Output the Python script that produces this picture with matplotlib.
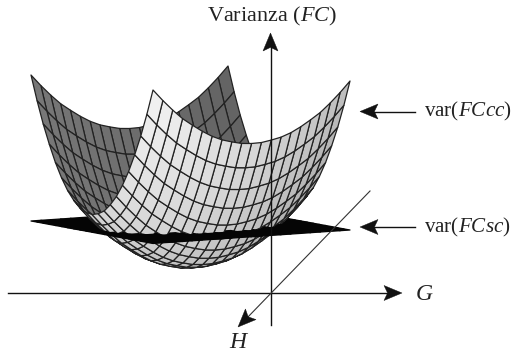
"""
bowl of var(FCcc) over the flat var(FCsc) sheet, with the G, H and variance axes
"""
import numpy as np
import matplotlib
matplotlib.use("Agg")
import matplotlib.pyplot as plt
from matplotlib.collections import PolyCollection
from matplotlib.patches import Polygon

# grid lines of both sheets
g_lines = [-1.0, -0.9, -0.8, -0.7, -0.6, -0.5, -0.4, -0.3, -0.2, -0.1, 0.0,
           0.1, 0.2, 0.3, 0.4, 0.5, 0.6, 0.7, 0.8, 0.9, 1.0]
h_lines = [-1.0, -0.9, -0.8, -0.7, -0.6, -0.5, -0.4, -0.3, -0.2, -0.1, 0.0,
           0.1, 0.2, 0.3, 0.4, 0.5, 0.6, 0.7, 0.8, 0.9, 1.0]
# height read along the rim, in pixels
bowl_rise_g = [58, 47, 37, 28, 21, 14.5, 9, 5, 2.5, 0.5, 0,
               0.5, 2.5, 5, 9, 14.5, 21, 28, 37, 47, 58]
bowl_rise_h = [132, 107, 84.5, 65, 47.5, 33, 21, 12, 5, 1.5, 0,
               1.5, 5, 12, 21, 33, 47.5, 65, 84.5, 107, 132]
sheet_rise_g = [40.25, 40.5, 40.7, 40.9, 41.15, 41.4, 41.6, 41.85, 42.05, 42.3, 42.5,
                42.7, 42.95, 43.15, 43.4, 43.6, 43.85, 44.1, 44.3, 44.5, 44.75]
sheet_rise_h = [3.75, 3.4, 3.0, 2.6, 2.25, 1.9, 1.5, 1.1, 0.75, 0.4, 0.0,
                -0.4, -0.75, -1.1, -1.5, -1.9, -2.25, -2.6, -3.0, -3.4, -3.75]

axis_label = "Varianza ($\\mathit{FC}$)"
bowl_label = "var($\\mathit{FCcc}$)"
sheet_label = "var($\\mathit{FCsc}$)"

# parallel projection of the grid on the image, pixels
CENTER = (190.5, 268.0)
G_DIR = (98.5, -4.5)
H_DIR = (61.0, 7.5)

plt.rcParams["font.family"] = ["Liberation Serif", "DejaVu Serif"]
plt.rcParams["mathtext.fontset"] = "custom"
plt.rcParams["mathtext.rm"] = "Liberation Serif"
plt.rcParams["mathtext.it"] = "Liberation Serif:italic"


def project(g, h, z):
  return (CENTER[0] + G_DIR[0] * g + H_DIR[0] * h,
          CENTER[1] + G_DIR[1] * g + H_DIR[1] * h - z)


def sheet_cells(rise_g, rise_h):
  """
  yield corners and grid position of each cell of one sheet
  """
  for i in range(len(g_lines) - 1):
    for j in range(len(h_lines) - 1):
      corners = [(i, j), (i + 1, j), (i + 1, j + 1), (i, j + 1)]
      points = [project(g_lines[a], h_lines[b], rise_g[a] + rise_h[b]) for a, b in corners]
      g_mid = (g_lines[i] + g_lines[i + 1]) / 2
      h_mid = (h_lines[j] + h_lines[j + 1]) / 2
      z_mid = np.mean([rise_g[a] + rise_h[b] for a, b in corners])
      yield points, g_mid, h_mid, z_mid


def signed_area(points):
  xs, ys = np.array(points).T
  return 0.5 * np.sum(xs * np.roll(ys, -1) - np.roll(xs, -1) * ys)


def arrow_head(ax, tip, direction, length=18, width=15, color="#111111"):
  """
  draw a stealth shaped head ending at `tip`
  """
  d = np.array(direction, dtype=float)
  d = d / np.linalg.norm(d)
  n = np.array([-d[1], d[0]])
  tip = np.array(tip, dtype=float)
  shape = [tip, tip - d * length + n * width / 2, tip - d * length * 0.8, tip - d * length - n * width / 2]
  ax.add_patch(Polygon(shape, closed=True, facecolor=color, edgecolor=color, linewidth=0.3, zorder=5))


fig = plt.figure(figsize=(5.11, 3.52), dpi=100)
ax = fig.add_axes([0, 0, 1, 1])
ax.set_xlim(0, 511)
ax.set_ylim(352, 0)
ax.axis("off")

cells = []
for points, g, h, z in sheet_cells(bowl_rise_g, bowl_rise_h):
  if signed_area(points) < 0:
    gray = 0.71 - 0.105 * g + 0.14 * h
  else:
    gray = 0.43 - 0.04 * g
  depth = H_DIR[1] * h + G_DIR[1] * g + 0.02 * z
  cells.append((depth, points, (gray, gray, gray), "#222222"))
for points, g, h, z in sheet_cells(sheet_rise_g, sheet_rise_h):
  depth = H_DIR[1] * h + G_DIR[1] * g + 0.02 * z
  cells.append((depth, points, "#050505", "#050505"))
cells.sort(key=lambda cell: cell[0])

ax.add_collection(PolyCollection([c[1] for c in cells],
                                 facecolors=[c[2] for c in cells],
                                 edgecolors=[c[3] for c in cells],
                                 linewidths=0.9, zorder=2))

# axes
ax.plot([270.5, 270.5], [325, 45], color="#111111", lw=1.0, zorder=4)
arrow_head(ax, (270.5, 33), (0, -1))
ax.plot([8, 390], [293, 293], color="#111111", lw=1.0, zorder=4)
arrow_head(ax, (402, 293), (1, 0))
ax.plot([370, 246], [191, 319], color="#333333", lw=0.8, zorder=4)
arrow_head(ax, (238, 327), (-1, 1))
# pointers to the two sheets
ax.plot([415, 372], [111.5, 111.5], color="#111111", lw=1.0, zorder=4)
arrow_head(ax, (360, 111.5), (-1, 0))
ax.plot([415, 372], [227, 227], color="#111111", lw=1.0, zorder=4)
arrow_head(ax, (360, 227), (-1, 0))

ax.text(272, 16, axis_label, fontsize=16, color="#222222", ha="center", va="center")
ax.text(424, 111, bowl_label, fontsize=15.2, color="#222222", ha="left", va="center")
ax.text(424, 227, sheet_label, fontsize=15.2, color="#222222", ha="left", va="center")
ax.text(424, 295, "G", fontsize=17, style="italic", color="#222222", ha="center", va="center")
ax.text(238, 342, "H", fontsize=17, style="italic", color="#222222", ha="center", va="center")

fig.savefig("out.png", dpi=100)
